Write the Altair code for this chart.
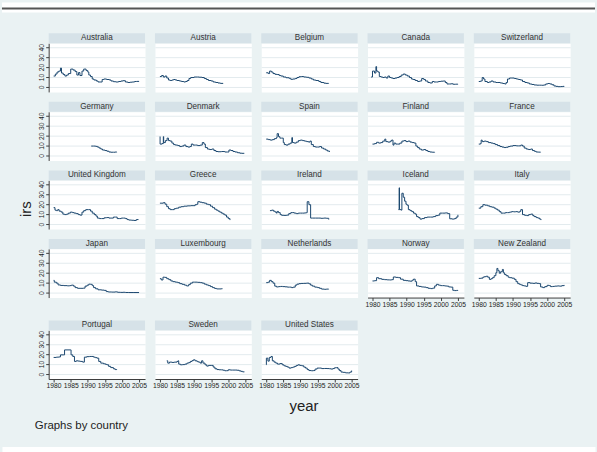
import altair as alt
import pandas as pd

# ---------------------------------------------------------------------------
# Short-term interest rates (irs) by country, (year, rate) change points.
# ---------------------------------------------------------------------------
AUSTRALIA = [(1980.0, 11), (1980.5, 13), (1981.0, 15), (1981.5, 16), (1982.0, 19), (1982.3, 14),
             (1982.8, 12.5), (1983.3, 11), (1983.8, 12), (1984.3, 13.5), (1985.0, 18), (1985.7, 17),
             (1986.3, 15.5), (1986.8, 12), (1987.3, 14.5), (1987.7, 11.5), (1988.3, 16), (1988.8, 18),
             (1989.5, 16.5), (1990.0, 15), (1990.3, 12), (1990.8, 10.5), (1991.3, 8), (1991.8, 7),
             (1992.5, 6), (1993.0, 5), (1993.6, 5), (1994.2, 7.5), (1994.7, 8), (1995.5, 7.5),
             (1996.3, 7), (1996.8, 6), (1997.5, 5.3), (1998.2, 5), (1999.0, 5.5), (1999.7, 6),
             (2000.3, 6.3), (2001.0, 5), (2001.7, 4.5), (2002.4, 4.8), (2003.0, 5), (2003.7, 5.5),
             (2004.3, 5.6), (2005.0, 5.7)]
AUSTRIA = [(1980.0, 10.5), (1980.5, 11.5), (1981.0, 10), (1981.5, 11), (1982.0, 9), (1982.5, 7),
           (1983.0, 6.5), (1983.5, 7), (1984.0, 7.5), (1984.5, 7), (1985.0, 6.5), (1985.7, 6),
           (1986.3, 5.5), (1987.0, 5), (1987.5, 5.5), (1988.0, 6.5), (1988.5, 8.5), (1989.0, 9.5),
           (1990.0, 10), (1991.0, 10), (1991.5, 9.8), (1992.3, 9.5), (1993.0, 8.5), (1993.6, 7.5),
           (1994.2, 6.5), (1995.0, 6), (1995.6, 5), (1996.3, 4.5), (1997.0, 4), (1997.7, 3.6),
           (1998.5, 3.7)]
BELGIUM = [(1980.0, 14.3), (1980.6, 13.5), (1981.0, 16), (1981.5, 15), (1982.0, 13.5), (1982.6, 12.7),
           (1983.2, 12.5), (1983.8, 11.5), (1984.3, 11), (1985.0, 10), (1985.8, 9.3), (1986.7, 8.7),
           (1987.2, 7.7), (1987.8, 8), (1988.5, 8.5), (1989.0, 9.5), (1989.6, 10.3), (1990.3, 10.5),
           (1991.0, 10), (1991.8, 9.7), (1992.5, 9), (1993.2, 8), (1993.8, 7), (1994.5, 6.5),
           (1995.4, 5.5), (1996.0, 4.5), (1996.9, 3.8), (1997.5, 3.6), (1998.3, 3.7)]
CANADA = [(1979.6, 10), (1980.0, 16), (1980.6, 14), (1981.0, 20.5), (1981.2, 16), (1981.6, 15),
          (1982.0, 10.5), (1982.5, 10), (1983.0, 9.5), (1983.5, 10), (1984.0, 9), (1984.5, 11),
          (1985.0, 9.5), (1985.5, 9), (1986.0, 8.5), (1986.6, 9), (1987.2, 9.5), (1987.8, 10.5),
          (1988.4, 12), (1989.0, 13), (1989.6, 12), (1990.2, 11), (1990.8, 9.5), (1991.4, 8),
          (1991.9, 7.5), (1992.5, 6.5), (1993.2, 5.5), (1993.8, 6), (1994.4, 8.5), (1995.0, 7.5),
          (1995.5, 6), (1996.2, 4.5), (1996.8, 4), (1997.5, 5.5), (1998.0, 5), (1998.7, 5),
          (1999.3, 5.5), (2000.0, 5.8), (2000.7, 6), (2001.3, 4.5), (2001.8, 3), (2002.5, 3),
          (2003.0, 3.2), (2003.6, 2.7), (2004.3, 2.8), (2005.0, 3)]
SWITZERLAND = [(1980.0, 5.5), (1980.5, 6), (1981.0, 9.5), (1981.4, 8), (1981.8, 5.5), (1982.5, 4.5),
               (1983.0, 5), (1983.6, 6), (1984.2, 5), (1985.0, 4.5), (1985.6, 4.5), (1986.3, 4),
               (1987.0, 3.5), (1987.6, 3), (1988.0, 4.5), (1988.4, 8), (1989.0, 9), (1989.7, 9),
               (1990.4, 8.5), (1991.0, 8), (1991.6, 7.5), (1992.2, 7), (1992.8, 5.5), (1993.5, 4.5),
               (1994.2, 4), (1994.8, 3), (1995.5, 2.5), (1996.2, 2), (1997.0, 1.8), (1997.7, 1.8),
               (1998.4, 1.7), (1999.0, 2), (1999.6, 3), (2000.2, 3.5), (2000.8, 3), (2001.4, 2.2),
               (2002.0, 1), (2002.6, 0.6), (2003.2, 0.3), (2004.0, 0.4), (2004.6, 0.6), (2005.0, 0.8)]
GERMANY = [(1991.0, 9.5), (1991.7, 9.5), (1992.3, 9.2), (1992.8, 8.5), (1993.3, 7.5), (1993.8, 6.5),
           (1994.3, 5.5), (1995.0, 5), (1995.6, 4.3), (1996.2, 3.5), (1996.8, 3.3), (1997.5, 3.3),
           (1998.0, 3.5), (1998.5, 3.4)]
DENMARK = [(1980.0, 19), (1980.05, 11.5), (1980.6, 12), (1981.0, 19), (1981.1, 13), (1981.6, 15),
           (1982.1, 17.5), (1982.5, 15), (1983.0, 14.5), (1983.5, 12.5), (1984.0, 11), (1984.5, 10.5),
           (1985.2, 10), (1985.8, 9), (1986.4, 9.5), (1987.0, 10.5), (1987.6, 9), (1988.2, 8.5),
           (1988.8, 9), (1989.2, 11.5), (1989.7, 10.5), (1990.4, 10.5), (1991.0, 10), (1991.8, 10.5),
           (1992.4, 13), (1992.9, 11.5), (1993.3, 8), (1993.9, 6.5), (1994.5, 6), (1995.2, 6.5),
           (1995.8, 5), (1996.4, 4), (1997.0, 3.8), (1998.0, 4), (1999.0, 3.5), (1999.7, 3.5),
           (2000.2, 5.5), (2000.8, 5), (2001.4, 4), (2002.0, 3.5), (2002.7, 2.8), (2003.4, 2.3),
           (2004.0, 2.2), (2004.7, 2.2)]
SPAIN = [(1980.0, 16.5), (1980.6, 16), (1981.2, 15.5), (1981.8, 16), (1982.4, 17), (1983.0, 18),
         (1983.2, 22), (1983.6, 19), (1984.0, 17.5), (1984.5, 17.5), (1985.0, 13), (1985.3, 11),
         (1985.8, 10.5), (1986.4, 11.5), (1987.0, 12.5), (1987.5, 18), (1987.7, 13), (1988.2, 12.5),
         (1988.8, 13.5), (1989.4, 15), (1990.0, 15.5), (1990.6, 15), (1991.2, 14.5), (1991.8, 14),
         (1992.4, 13.5), (1992.8, 14.5), (1993.2, 11), (1993.8, 9), (1994.4, 8.5), (1995.0, 8.5),
         (1995.6, 9), (1996.2, 7.5), (1996.8, 6.5), (1997.4, 5.5), (1997.9, 4.5), (1998.5, 3.5)]
FINLAND = [(1980.0, 11.5), (1980.6, 12), (1981.2, 13.3), (1981.8, 12.5), (1982.4, 13), (1983.0, 14.5),
           (1983.6, 16.5), (1983.9, 14), (1984.5, 13.5), (1985.2, 14.5), (1985.6, 15.5), (1986.0, 10.5),
           (1986.3, 12.5), (1986.8, 11.5), (1987.4, 11.5), (1988.0, 12.5), (1988.6, 14.5), (1989.2, 15),
           (1989.8, 14), (1990.4, 14.5), (1991.0, 13.5), (1991.6, 13), (1992.2, 12.5), (1992.7, 9.5),
           (1993.2, 8), (1993.7, 6.5), (1994.3, 5.5), (1995.0, 6), (1995.6, 5), (1996.2, 4),
           (1996.8, 3.5), (1997.5, 3.3), (1998.2, 3.5)]
FRANCE = [(1980.0, 11.5), (1980.5, 12), (1980.7, 15.5), (1981.0, 14), (1981.6, 14.5), (1982.2, 14),
          (1982.8, 13), (1983.6, 12.5), (1984.2, 12), (1984.8, 11), (1985.5, 10), (1986.2, 9),
          (1986.8, 8.5), (1987.4, 8), (1988.0, 8.3), (1988.6, 9), (1989.2, 9.5), (1990.0, 10),
          (1991.0, 9.7), (1991.6, 9.7), (1992.3, 10.5), (1992.8, 9.5), (1993.3, 7.5), (1993.9, 6.5),
          (1994.5, 6), (1995.2, 6.5), (1995.7, 5), (1996.3, 4.2), (1996.8, 3.5), (1997.5, 3.4),
          (1998.1, 3.5)]
UNITED_KINGDOM = [(1980.0, 16.5), (1980.4, 14), (1980.8, 13.5), (1981.2, 14.5), (1981.6, 13), (1982.2, 12),
                  (1982.7, 10), (1983.2, 9.5), (1983.8, 10), (1984.3, 11), (1984.9, 12), (1985.5, 11.5),
                  (1986.0, 11), (1986.6, 10.5), (1987.2, 9.5), (1987.7, 9), (1988.3, 12), (1988.8, 13.5),
                  (1989.4, 14.5), (1990.2, 14.5), (1990.8, 13), (1991.3, 11), (1991.9, 9.5), (1992.4, 8),
                  (1992.8, 6), (1993.4, 5.5), (1994.0, 5.5), (1994.8, 6.3), (1995.5, 6.5), (1996.2, 6),
                  (1996.8, 6), (1997.5, 7), (1998.1, 7), (1998.6, 5.5), (1999.2, 5.5), (1999.8, 6),
                  (2000.4, 6), (2001.0, 5.5), (2001.5, 4.5), (2002.0, 4), (2002.8, 3.8), (2003.5, 3.6),
                  (2004.2, 4.5), (2004.8, 4.7)]
GREECE = [(1980.0, 21), (1981.0, 21.5), (1981.5, 20), (1982.0, 17.5), (1982.5, 15.5), (1983.0, 14.5),
          (1983.6, 14.5), (1984.2, 15.5), (1984.8, 16), (1985.5, 17), (1986.2, 17.5), (1987.0, 18),
          (1988.0, 18.3), (1989.0, 18.5), (1989.7, 18.5), (1990.3, 19.5), (1990.8, 20), (1991.1, 22.5),
          (1991.7, 22), (1992.3, 21.5), (1993.0, 21), (1993.6, 20), (1994.2, 19.5), (1994.8, 18),
          (1995.4, 16.5), (1996.0, 15), (1996.5, 14), (1997.0, 13), (1997.5, 12), (1998.0, 11),
          (1998.5, 10), (1999.0, 9), (1999.5, 7), (2000.0, 5.5), (2000.5, 4)]
IRELAND = [(1981.1, 13.5), (1981.6, 14), (1982.1, 13), (1982.6, 12), (1983.0, 11), (1983.2, 12.7),
           (1983.6, 11.5), (1984.1, 9.5), (1984.5, 8.8), (1985.2, 8.7), (1986.0, 9), (1986.6, 10.5),
           (1987.2, 11.5), (1987.6, 11.5), (1988.2, 11), (1988.8, 10.5), (1989.4, 11), (1990.0, 11),
           (1990.6, 11), (1991.2, 11.2), (1991.8, 11.5), (1992.0, 22.5), (1992.5, 19.5), (1993.0, 6),
           (1993.6, 6), (1994.4, 6), (1995.2, 6), (1996.0, 5.8), (1996.8, 6), (1997.6, 5.8),
           (1998.3, 4.5)]
ICELAND = [(1987.6, 14.5), (1987.8, 36.5), (1987.9, 14.5), (1988.4, 14), (1988.6, 31), (1989.0, 27),
           (1989.4, 23), (1989.8, 20), (1990.1, 19), (1990.5, 14.5), (1991.0, 13.5), (1991.5, 12.5),
           (1992.0, 11), (1992.5, 10), (1992.9, 7.5), (1993.4, 6.5), (1993.9, 5), (1994.5, 5.5),
           (1995.2, 6.5), (1996.0, 7), (1997.0, 7), (1997.8, 7.5), (1998.5, 8.5), (1999.2, 9),
           (1999.7, 11), (2000.5, 11), (2001.3, 11.2), (2002.0, 10.5), (2002.6, 5.3), (2003.3, 5),
           (2004.0, 5.5), (2004.5, 7), (2005.0, 9.3)]
ITALY = [(1980.0, 16), (1980.6, 17.5), (1981.2, 19.5), (1981.8, 19), (1982.6, 18.3), (1983.2, 17.5),
         (1983.8, 17), (1984.5, 16), (1985.0, 15), (1985.5, 14), (1986.0, 12.5), (1986.5, 11),
         (1987.2, 11), (1987.8, 11.5), (1988.4, 11.5), (1989.0, 12), (1989.6, 12.5), (1990.2, 12.3),
         (1990.8, 12.5), (1991.4, 12), (1992.0, 12.8), (1992.3, 14.5), (1992.8, 9.5), (1993.4, 8.8),
         (1994.0, 8.5), (1994.6, 9.5), (1995.2, 10), (1995.8, 8.5), (1996.2, 7.5), (1996.8, 6.5),
         (1997.3, 6), (1997.8, 5), (1998.2, 4)]
JAPAN = [(1980.0, 12.3), (1980.2, 10.5), (1980.8, 9.5), (1981.3, 7.7), (1982.0, 7.2), (1983.0, 7),
         (1984.0, 6.8), (1984.7, 7), (1985.2, 7.5), (1985.8, 6.5), (1986.3, 5), (1987.0, 4.3),
         (1988.0, 4.3), (1988.7, 4.5), (1989.2, 6.5), (1989.8, 7.5), (1990.3, 8.5), (1990.8, 8.3),
         (1991.3, 7), (1991.7, 5), (1992.3, 3.8), (1993.0, 2.8), (1994.0, 2.5), (1994.8, 2.2),
         (1995.4, 1), (1996.0, 0.6), (1997.0, 0.5), (1998.0, 0.7), (1998.7, 0.3), (1999.5, 0.2),
         (2000.3, 0.3), (2001.0, 0.1), (2002.0, 0.05), (2003.5, 0.05), (2005.0, 0.05)]
LUXEMBOURG = [(1980.0, 14), (1980.4, 12.7), (1980.9, 15.5), (1981.4, 15.3), (1982.0, 14), (1982.6, 13),
              (1983.2, 11.7), (1983.8, 11), (1984.5, 10.5), (1985.2, 10), (1985.8, 9), (1986.5, 8.3),
              (1987.2, 7.5), (1987.8, 6.7), (1988.4, 8), (1988.9, 9.5), (1989.5, 10.5), (1990.2, 10.5),
              (1991.0, 10.3), (1991.8, 10), (1992.4, 9.5), (1993.0, 8.5), (1993.6, 7.7), (1994.2, 7),
              (1994.8, 6), (1995.4, 5), (1996.0, 4.2), (1996.6, 3.7), (1997.3, 3.7), (1998.0, 3.9),
              (1998.3, 3.8)]
NETHERLANDS = [(1980.0, 10), (1980.5, 10.5), (1981.0, 12.3), (1981.5, 11), (1982.0, 9.5), (1982.5, 6.5),
               (1983.0, 5.7), (1983.6, 6), (1984.2, 6.2), (1984.8, 6), (1985.5, 5.8), (1986.2, 5.5),
               (1986.8, 5.5), (1987.4, 5), (1987.9, 5.5), (1988.5, 7.5), (1989.0, 8.5), (1989.6, 9),
               (1990.2, 9.2), (1991.0, 9.3), (1991.8, 9.5), (1992.5, 8.8), (1993.0, 7.5), (1993.5, 6.5),
               (1994.2, 5.5), (1995.0, 5), (1995.6, 4.3), (1996.2, 3.5), (1997.0, 3.3), (1997.6, 3.5),
               (1998.3, 3.4)]
NORWAY = [(1980.0, 11.7), (1980.6, 12), (1981.2, 15), (1981.8, 14), (1982.7, 13.3), (1983.5, 13),
          (1984.3, 12.8), (1985.0, 12.7), (1985.6, 13), (1986.1, 15.7), (1986.8, 15.3), (1987.6, 15),
          (1988.2, 13.5), (1989.0, 12.3), (1989.8, 12), (1990.4, 11.7), (1991.0, 11.5), (1991.6, 12.5),
          (1992.0, 13.5), (1992.5, 11), (1992.9, 6.7), (1993.6, 6.2), (1994.3, 5.7), (1995.0, 5.5),
          (1995.7, 5), (1996.3, 4.3), (1997.0, 4), (1997.6, 4.5), (1998.2, 6.7), (1998.7, 8.3),
          (1999.3, 7.5), (1999.9, 7), (2000.5, 7), (2001.1, 6.7), (2001.7, 6.5), (2002.3, 5.7),
          (2002.9, 5.5), (2003.5, 2.3), (2004.0, 2), (2004.6, 2.2), (2005.0, 2.5)]
NEW_ZEALAND = [(1980.0, 14.3), (1980.6, 14.5), (1981.2, 15.5), (1981.6, 16), (1982.2, 16.5), (1982.6, 15.5),
               (1983.1, 13.3), (1983.6, 14), (1984.0, 15), (1984.5, 17), (1985.0, 20), (1985.3, 24.3),
               (1985.6, 22), (1986.0, 19.5), (1986.4, 21), (1986.9, 23.3), (1987.2, 20), (1987.5, 18.3),
               (1988.0, 17), (1988.6, 15.5), (1989.0, 15), (1989.7, 14.5), (1990.4, 13.3), (1990.9, 11),
               (1991.4, 9), (1991.9, 8.3), (1992.3, 7.7), (1992.8, 7), (1993.3, 6.7), (1993.8, 6.3),
               (1994.3, 10), (1995.0, 9.5), (1995.8, 9.3), (1996.5, 9.7), (1997.0, 9.3), (1997.6, 9),
               (1998.1, 5.7), (1998.7, 5), (1999.3, 6), (2000.0, 7.3), (2000.6, 7), (2001.0, 6),
               (2001.6, 6.2), (2002.2, 6.5), (2003.0, 6.7), (2003.6, 6.5), (2004.3, 7), (2005.0, 7.7)]
PORTUGAL = [(1980.0, 16.7), (1980.8, 17), (1981.5, 17.2), (1982.0, 19.3), (1983.0, 19.3), (1983.2, 24.3),
            (1985.0, 24.3), (1985.1, 19.3), (1985.6, 17.7), (1986.1, 12.7), (1986.6, 13.3), (1987.2, 13),
            (1987.8, 12.7), (1988.5, 12), (1989.0, 17), (1989.7, 17.5), (1990.5, 17.7), (1991.2, 17.7),
            (1991.7, 17), (1992.2, 16.5), (1992.7, 16), (1993.2, 12.7), (1993.8, 11), (1994.6, 10.3),
            (1995.2, 9.7), (1995.6, 9.3), (1996.1, 7.7), (1996.7, 6.5), (1997.5, 5.3), (1998.0, 4.5),
            (1998.5, 4.3)]
SWEDEN = [(1982.0, 13.3), (1982.3, 11), (1982.8, 12), (1983.5, 11.7), (1984.2, 12), (1985.0, 12.7),
          (1985.3, 13.3), (1985.5, 10), (1986.0, 9.3), (1986.6, 9.5), (1987.3, 10), (1987.9, 11),
          (1988.4, 11.5), (1988.9, 12.7), (1989.4, 13.5), (1989.8, 14.3), (1990.3, 13.3), (1990.9, 12.5),
          (1991.3, 12), (1991.8, 11), (1992.2, 13.3), (1992.6, 11), (1993.2, 9.3), (1993.7, 8),
          (1994.2, 8.7), (1995.0, 8.7), (1995.6, 7), (1996.1, 5.3), (1996.7, 4.5), (1997.3, 4.3),
          (1998.0, 4.2), (1998.5, 3.8), (1999.0, 3.3), (1999.5, 3.4), (2000.0, 4.3), (2000.6, 4),
          (2001.3, 4), (2002.0, 4), (2002.6, 3.8), (2003.2, 3.2), (2003.7, 2.7), (2004.2, 2.2),
          (2004.7, 2)]
UNITED_STATES = [(1980.0, 9.3), (1980.05, 16), (1980.5, 13), (1980.9, 16.7), (1981.4, 17.7), (1981.8, 13.3),
                 (1982.3, 12), (1982.8, 11), (1983.3, 10), (1984.0, 10.5), (1984.7, 9.3), (1985.2, 8.3),
                 (1985.7, 7.7), (1986.2, 7), (1986.7, 6), (1987.3, 6.5), (1987.8, 7), (1988.3, 7.7),
                 (1988.8, 8.7), (1989.3, 9.3), (1989.8, 8.7), (1990.4, 8.3), (1991.0, 7), (1991.5, 6),
                 (1992.0, 4.5), (1992.5, 3.5), (1993.2, 3.3), (1993.8, 3.5), (1994.3, 5), (1994.9, 6),
                 (1995.5, 6), (1996.2, 5.5), (1997.0, 5.6), (1997.8, 5.5), (1998.5, 5.3), (1999.0, 5),
                 (1999.5, 5.5), (2000.0, 6.3), (2000.6, 6.5), (2001.0, 5), (2001.4, 3.5), (2001.9, 2),
                 (2002.5, 1.7), (2003.2, 1.2), (2004.0, 1.1), (2004.5, 2), (2005.0, 3.5)]

COUNTRIES = [
    ("Australia", AUSTRALIA), ("Austria", AUSTRIA), ("Belgium", BELGIUM), ("Canada", CANADA),
    ("Switzerland", SWITZERLAND), ("Germany", GERMANY), ("Denmark", DENMARK), ("Spain", SPAIN),
    ("Finland", FINLAND), ("France", FRANCE), ("United Kingdom", UNITED_KINGDOM), ("Greece", GREECE),
    ("Ireland", IRELAND), ("Iceland", ICELAND), ("Italy", ITALY), ("Japan", JAPAN),
    ("Luxembourg", LUXEMBOURG), ("Netherlands", NETHERLANDS), ("Norway", NORWAY),
    ("New Zealand", NEW_ZEALAND), ("Portugal", PORTUGAL), ("Sweden", SWEDEN),
    ("United States", UNITED_STATES),
]

Y_TICKS = [0, 10, 20, 30, 40]
X_TICKS = [1980, 1985, 1990, 1995, 2000, 2005]

# ---------------------------------------------------------------------------
# Styling
# ---------------------------------------------------------------------------
BG = "#eaf2f3"
STRIP = "#d6e2e8"
GRID = "#e3ebee"
NAVY = "#1a476f"
AXIS = "#3c3c3c"
TEXT = "#222222"
FONT = "Liberation Sans"

PW, PH = 97, 49            # plot area of each panel
STRIP_H = 10               # country strip above each panel
X_DOMAIN = [1978.55, 2006.75]
Y_DOMAIN = [-5, 44]
FULL_W = 597


def panel(name, series, first_col, bottom):
    df = pd.DataFrame(series, columns=["year", "irs"])
    lab = pd.DataFrame({"country": [name]})

    if first_col:
        y_axis = alt.Axis(values=Y_TICKS, title=None, grid=True, gridColor=GRID, gridWidth=1,
                          domain=True, domainColor=AXIS, domainWidth=1,
                          ticks=True, tickColor=AXIS, tickSize=3, tickWidth=1,
                          labels=True, labelAngle=270, labelAlign="center", labelBaseline="bottom",
                          labelFont=FONT, labelFontSize=6.8, labelColor=TEXT, labelPadding=1,
                          labelFlush=False, labelOverlap=False)
    else:
        y_axis = alt.Axis(values=Y_TICKS, title=None, grid=True, gridColor=GRID, gridWidth=1,
                          domain=False, ticks=False, labels=False)

    if bottom:
        x_axis = alt.Axis(values=X_TICKS, format="d", title=None, grid=False,
                          domain=True, domainColor=AXIS, domainWidth=1,
                          ticks=True, tickColor=AXIS, tickSize=3, tickWidth=1,
                          labelFont=FONT, labelFontSize=6.8, labelColor=TEXT, labelPadding=1,
                          labelFlush=False, labelOverlap=False)
    else:
        x_axis = None

    strip = alt.Chart(lab).mark_rect(color=STRIP).encode(
        x=alt.value(0), x2=alt.value(PW), y=alt.value(-STRIP_H), y2=alt.value(0)
    )
    label = alt.Chart(lab).mark_text(
        font=FONT, fontSize=8.2, color="#333333", align="center", baseline="middle"
    ).encode(text="country:N", x=alt.value(PW / 2), y=alt.value(-STRIP_H / 2))
    line = alt.Chart(df).mark_line(
        interpolate="step-after", color=NAVY, strokeWidth=1
    ).encode(
        x=alt.X("year:Q", scale=alt.Scale(domain=X_DOMAIN, nice=False, zero=False), axis=x_axis),
        y=alt.Y("irs:Q", scale=alt.Scale(domain=Y_DOMAIN, nice=False, zero=False), axis=y_axis),
    )
    return alt.layer(strip, label, line).properties(
        width=PW, height=PH, view=alt.ViewBackground(fill="white", stroke="transparent")
    )


panels = []
for i, (name, series) in enumerate(COUNTRIES):
    panels.append(panel(name, series, first_col=(i % 5 == 0), bottom=(i >= 18)))

grid_top = alt.concat(*panels[:20], columns=5, spacing={"row": 20, "column": 10}, bounds="flush")
grid_last = alt.hconcat(*panels[20:], spacing=10, bounds="flush")
stack = alt.vconcat(grid_top, grid_last, spacing=10)

one = pd.DataFrame({"t": ["irs"]})
irs_title = alt.Chart(one).mark_text(
    font=FONT, fontSize=15, angle=270, align="center", baseline="middle", color=TEXT
).encode(text="t:N", x=alt.value(24), y=alt.value(167)).properties(
    width=30, height=330, view=alt.ViewBackground(fill=BG, stroke="transparent")
)
body = alt.hconcat(irs_title, stack, spacing=3)

year_title = alt.Chart(pd.DataFrame({"t": ["year"]})).mark_text(
    font=FONT, fontSize=15, align="center", baseline="middle", color=TEXT
).encode(text="t:N", x=alt.value(304), y=alt.value(14))
by_note = alt.Chart(pd.DataFrame({"t": ["Graphs by country"]})).mark_text(
    font=FONT, fontSize=11.5, align="left", baseline="middle", color=TEXT
).encode(text="t:N", x=alt.value(33), y=alt.value(34))
footer = alt.layer(year_title, by_note).properties(
    width=FULL_W, height=53, view=alt.ViewBackground(fill=BG, stroke="transparent")
)

# page rules above and below the graph region
edge = pd.DataFrame({"t": [0]})
top_band = alt.layer(
    alt.Chart(edge).mark_rect(color="white").encode(
        x=alt.value(0), x2=alt.value(FULL_W), y=alt.value(0), y2=alt.value(10)),
    alt.Chart(edge).mark_rule(color="#555555", strokeWidth=2).encode(
        x=alt.value(0), x2=alt.value(FULL_W), y=alt.value(6)),
).properties(width=FULL_W, height=29, view=alt.ViewBackground(fill=BG, stroke="transparent"))
bottom_band = alt.layer(
    alt.Chart(edge).mark_rule(color="#555555", strokeWidth=2).encode(
        x=alt.value(0), x2=alt.value(FULL_W), y=alt.value(7)),
).properties(width=FULL_W, height=12, view=alt.ViewBackground(fill="white", stroke="transparent"))

chart = alt.vconcat(top_band, body, footer, bottom_band, spacing=0).properties(
    padding=0, background=BG
).configure_view(stroke="transparent")

chart.save("out.html", embed_options={"renderer": "svg", "actions": False})
